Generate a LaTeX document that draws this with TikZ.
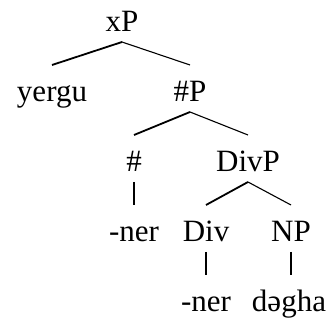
\documentclass[tikz,border=0pt]{standalone}
\usepackage{fontspec}
\setmainfont{Liberation Serif}
\begin{document}
\begin{tikzpicture}[x=1pt,y=-1pt,
  lab/.style={inner sep=0pt, outer sep=0pt, text height=37pt, text depth=10pt, anchor=base, font=\fontsize{31}{31}\selectfont},
  thick branch/.style={line width=1.8pt},
  thin branch/.style={line width=1.1pt},
  stem/.style={line width=1.2pt}]
\useasboundingbox (0,0) rectangle (332,320);
\node[lab] (xP) at (122,32) {xP};
\node[lab] (yergu) at (52,102) {yergu};
\node[lab] (hP) at (190,102) {\#P};
\node[lab] (h) at (134,172) {\#};
\node[lab] (DivP) at (248,172) {DivP};
\node[lab] (ner1) at (134,242) {-ner};
\node[lab] (Div) at (206,242) {Div};
\node[lab] (NP) at (291,242) {NP};
\node[lab] (ner2) at (206,312) {-ner};
\node[lab] (degha) at (289,312) {dəgha};
\draw[thick branch] (xP.south) -- (yergu.north);
\draw[thin branch] (xP.south) -- (hP.north);
\draw[thick branch] (hP.south) -- (h.north);
\draw[thin branch] (hP.south) -- (DivP.north);
\draw[stem] (h.south) -- (ner1.north);
\draw[thick branch] (DivP.south) -- (Div.north);
\draw[thin branch] (DivP.south) -- (NP.north);
\draw[stem] (Div.south) -- (ner2.north);
\draw[stem] (NP.south) -- (NP.south |- degha.north);
\end{tikzpicture}
\end{document}
